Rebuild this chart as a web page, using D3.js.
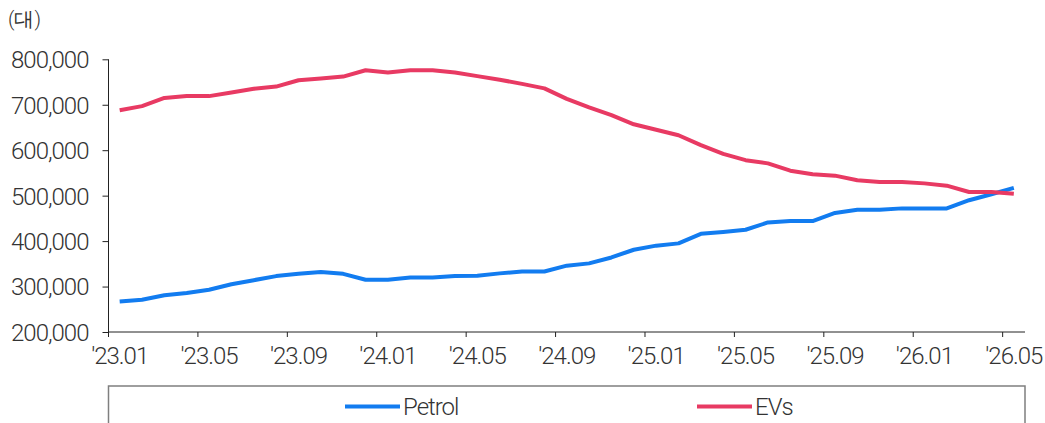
<!DOCTYPE html>
<html>
<head>
<meta charset="utf-8">
<script src="https://cdn.jsdelivr.net/npm/d3@7"></script>
<style>
  html, body { margin: 0; padding: 0; background: #fff; }
  svg { display: block; }
  text { font-family: Roboto, "Noto Sans", sans-serif; font-weight: 300; }
</style>
</head>
<body>
<svg id="chart" width="1045" height="423"></svg>
<script>
const months = [
  "'23.01","'23.02","'23.03","'23.04","'23.05","'23.06","'23.07","'23.08","'23.09","'23.10","'23.11","'23.12",
  "'24.01","'24.02","'24.03","'24.04","'24.05","'24.06","'24.07","'24.08","'24.09","'24.10","'24.11","'24.12",
  "'25.01","'25.02","'25.03","'25.04","'25.05","'25.06","'25.07","'25.08","'25.09","'25.10","'25.11","'25.12",
  "'26.01","'26.02","'26.03","'26.04","'26.05"
];
const petrol = [
  267000, 271000, 281000, 286000, 293000, 305000, 314000, 323000, 328000, 332000, 328000, 315000,
  315000, 320000, 320000, 323000, 324000, 329000, 333000, 333000, 346000, 351000, 364000, 381000,
  390000, 395000, 416000, 420000, 425000, 441000, 444000, 444000, 462000, 469000, 469000, 472000,
  472000, 472000, 490000, 503000, 517000
];
const evs = [
  688000, 697000, 715000, 719000, 719000, 727000, 735000, 740000, 754000, 758000, 762000, 776000,
  771000, 776000, 776000, 771000, 763000, 755000, 746000, 736000, 713000, 694000, 677000, 657000,
  645000, 633000, 611000, 592000, 578000, 571000, 555000, 547000, 544000, 534000, 530000, 530000,
  527000, 522000, 508000, 508000, 504000
];
const yTicks = [200000, 300000, 400000, 500000, 600000, 700000, 800000];
const seriesNames = ["Petrol", "EVs"];
const seriesColors = ["#127cf0", "#e83a63"];
const unitLabel = "(대)";

(function () {
const svg = d3.select("#chart");
const mLeft = 108.5, mRight = 1025, mTop = 59.3, mBottom = 332;

const x = d3.scaleBand().domain(months).range([mLeft, mRight]).padding(0);
const y = d3.scaleLinear().domain([200000, 800000]).range([mBottom, mTop]);
const cx = d => x(d) + x.bandwidth() / 2;

const fmt = d3.format(",");

// Y axis
const yAxis = svg.append("g")
  .attr("transform", `translate(${mLeft},0)`)
  .call(d3.axisLeft(y).tickValues(yTicks).tickFormat(fmt).tickSize(6).tickPadding(14));
yAxis.select(".domain").attr("stroke", "#222").attr("d", `M0,${mTop}V${mBottom}`);
yAxis.selectAll(".tick line").attr("stroke", "#222");
yAxis.selectAll(".tick text")
  .attr("fill", "#333").style("font-size", "24px").style("letter-spacing", "-1px")
  .style("font-family", "Roboto, sans-serif").style("font-weight", 300)
  .attr("dy", "0.35em");

// X axis: ticks at category boundaries every 4 months, labels at category centres
const xg = svg.append("g").attr("transform", `translate(0,${mBottom})`);
xg.append("line").attr("x1", mLeft).attr("x2", mRight).attr("y1", 0).attr("y2", 0)
  .attr("stroke", "#222");
const tickMonths = months.filter((m, i) => i % 4 === 0);
xg.selectAll("line.tk").data(tickMonths).join("line").attr("class", "tk")
  .attr("x1", d => x(d)).attr("x2", d => x(d)).attr("y1", 0).attr("y2", 5)
  .attr("stroke", "#222");
xg.selectAll("text").data(tickMonths).join("text")
  .attr("x", d => cx(d)).attr("y", 24).attr("dy", "0.35em")
  .attr("text-anchor", "middle").attr("fill", "#333")
  .style("font-size", "24px").style("letter-spacing", "-1px")
  .text(d => d);

// Unit label
svg.append("text").attr("x", 8).attr("y", 26).attr("fill", "#333")
  .style("font-size", "20px").text(unitLabel);

// Lines
const line = d3.line().x((d, i) => cx(months[i])).y(d => y(d));
[petrol, evs].forEach((s, k) => {
  svg.append("path").datum(s).attr("d", line)
    .attr("fill", "none").attr("stroke", seriesColors[k])
    .attr("stroke-width", 4).attr("stroke-linejoin", "round");
});

// Legend box
const ly = 386;
svg.append("path")
  .attr("d", `M${mLeft},430V${ly}H${mRight}V430`)
  .attr("fill", "none").attr("stroke", "#7f7f7f").attr("stroke-width", 1.5);
const legendX = [345, 697];
seriesNames.forEach((n, k) => {
  svg.append("line").attr("x1", legendX[k]).attr("x2", legendX[k] + 55)
    .attr("y1", 406.5).attr("y2", 406.5)
    .attr("stroke", seriesColors[k]).attr("stroke-width", 4);
  svg.append("text").attr("x", legendX[k] + 58).attr("y", 406.5).attr("dy", "0.35em")
    .attr("fill", "#333").style("font-size", "24px").style("letter-spacing", "-1px")
    .text(n);
});
})();
</script>
</body>
</html>
